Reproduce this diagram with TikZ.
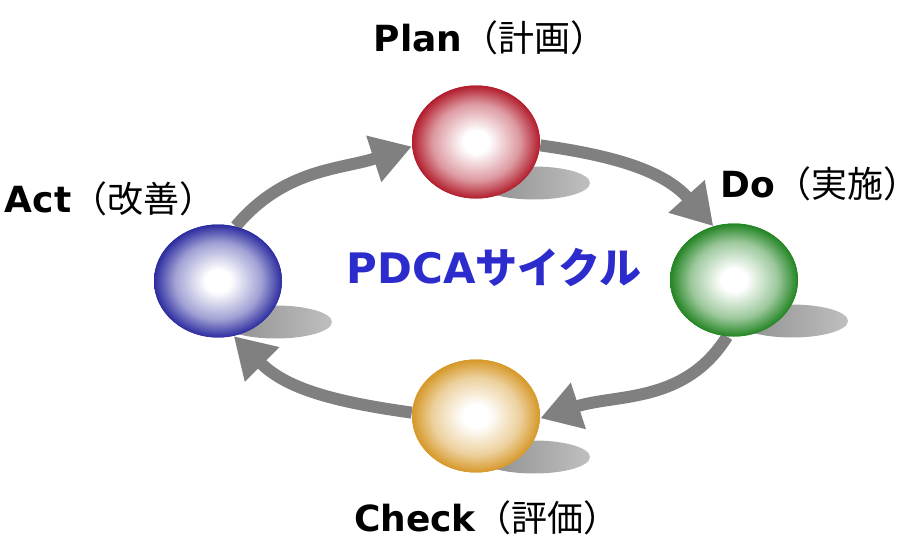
\documentclass[tikz,border=0pt]{standalone}
\usepackage{fontspec}
\setmainfont{DejaVu Sans}
\newfontfamily\cjk{Noto Sans CJK JP}
\usetikzlibrary{arrows.meta}
\usetikzlibrary{shapes.geometric}
\definecolor{planred}{RGB}{178, 28, 44}
\definecolor{dogreen}{RGB}{34, 132, 34}
\definecolor{checkgold}{RGB}{214, 152, 40}
\definecolor{actblue}{RGB}{44, 44, 160}
\definecolor{pdcablue}{RGB}{44, 44, 204}
\definecolor{arrowgray}{RGB}{128, 128, 128}
% white centre, full colour at the rim
\newcommand\defsphere[2]{%
  \colorlet{#1mid}{#2!45!white}%
  \pgfdeclareradialshading{#1shade}{\pgfpointorigin}{color(0bp)=(white); color(5bp)=(white); color(17bp)=(#1mid); color(25bp)=(#2); color(50bp)=(#2)}}
\defsphere{plan}{planred}
\defsphere{do}{dogreen}
\defsphere{check}{checkgold}
\defsphere{act}{actblue}
\tikzset{sphere/.style = {ellipse, minimum width = 64pt, minimum height = 56.5pt, inner sep = 0, shade}}
\tikzset{blob/.style = {ellipse, minimum width = 56pt, minimum height = 16.5pt, inner sep = 0, left color = black!45, right color = black!25}}
\tikzset{cycarrow/.style = {line width = 6pt, arrowgray, -{Triangle[length = 20pt, width = 23pt]}}}
\tikzset{lbl/.style = {font = \bfseries\fontsize{18}{20}\selectfont, anchor = base}}
\newcommand\jp[1]{{\cjk\mdseries\fontsize{18}{20}\selectfont #1}}

\begin{document}
\begin{tikzpicture}[x = 0.5pt, y = 0.5pt]
    \useasboundingbox (0, 0) rectangle (917, 548);

    % shadows
    \node [blob] (planshadow) at (534, 365) {};
    \node [blob] (doshadow) at (792, 227) {};
    \node [blob] (checkshadow) at (534, 91) {};
    \node [blob] (actshadow) at (276, 226) {};

    % spheres
    \coordinate (plancentre) at (476, 406);
    \coordinate (docentre) at (734, 268);
    \coordinate (checkcentre) at (476, 132);
    \coordinate (actcentre) at (218, 267);

    \node [sphere, shading = planshade] (plan) at (plancentre) {};
    \node [sphere, shading = doshade] (do) at (docentre) {};
    \node [sphere, shading = checkshade] (check) at (checkcentre) {};
    \node [sphere, shading = actshade] (act) at (actcentre) {};

    % the cycle
    \draw [cycarrow] (act.72) to [out = 50, in = 198] (plan.184);
    \draw [cycarrow] (plan.357) to [out = -8, in = 132] (do.111);
    \draw [cycarrow] (do.263) to [out = 238, in = 18] (check.358);
    \draw [cycarrow] (check.177) to [out = 172, in = -45] (act.286);

    % redraw spheres over the arrow ends
    \node [sphere, shading = planshade] at (plancentre) {};
    \node [sphere, shading = doshade] at (docentre) {};
    \node [sphere, shading = checkshade] at (checkcentre) {};
    \node [sphere, shading = actshade] at (actcentre) {};

    % labels
    \node [lbl] (plantext) at (490, 496) {Plan\jp{（計画）}};
    \node [lbl] (dotext) at (820, 351) {Do\jp{（実施）}};
    \node [lbl] (checktext) at (487, 17) {Check\jp{（評価）}};
    \node [lbl] (acttext) at (110, 336) {Act\jp{（改善）}};
    \node [font = \bfseries\fontsize{21}{24}\selectfont, text = pdcablue, anchor = base] (cycle) at (494, 265) {PDCA{\cjk サイクル}};
  \end{tikzpicture}
\end{document}
